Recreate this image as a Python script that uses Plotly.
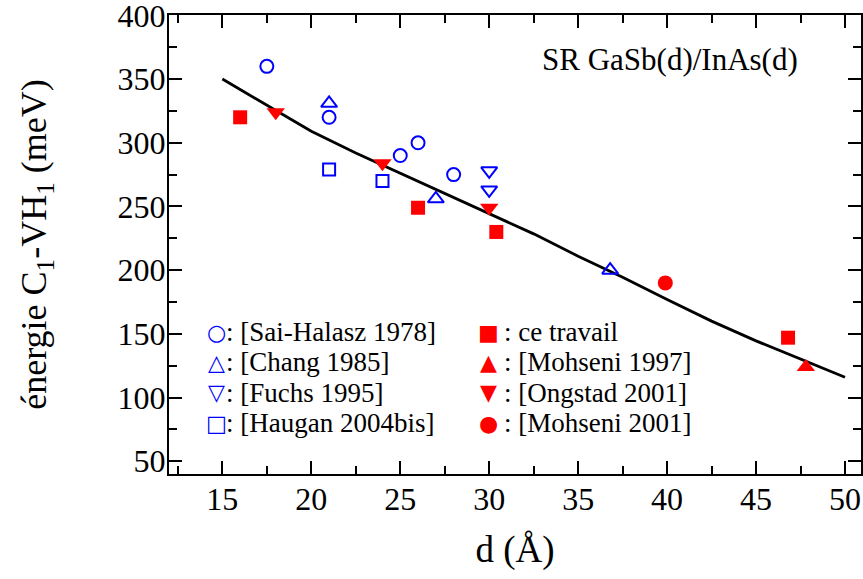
import plotly.graph_objects as go

# data (d in Angstrom, energy in meV)
sai_x = [17.5, 21, 25, 26, 28]
sai_y = [360, 320, 290, 300, 275]
chang_x = [21, 27, 36.8]
chang_y = [331, 256, 200]
fuchs_x = [30, 30]
fuchs_y = [278, 263]
haugan_x = [21, 24]
haugan_y = [279, 270]
travail_x = [16, 26, 30.4, 46.8]
travail_y = [320, 249, 230, 147]
mohseni97_x = [47.8]
mohseni97_y = [124]
ongstad_x = [18, 24, 30]
ongstad_y = [324, 284, 249]
mohseni01_x = [39.9]
mohseni01_y = [190]

fit_x = [15, 17.5, 20, 22.5, 25, 27.5, 30, 32.5, 35, 37.5, 40, 42.5, 45, 47.5, 50]
fit_y = [350, 329.5, 309, 292, 276, 260, 244, 228.5, 211, 194.5, 177, 160, 144.5, 130, 116]

legend_left = [": [Sai-Halasz 1978]", ": [Chang 1985]", ": [Fuchs 1995]", ": [Haugan 2004bis]"]
legend_right = [": ce travail", ": [Mohseni 1997]", ": [Ongstad 2001]", ": [Mohseni 2001]"]
symbols_left = ["○", "△", "▽", "□"]
symbols_right = ["■", "▲", "▼", "●"]

BLUE = "#0000ff"
RED = "#ff0000"
FONT = "Liberation Serif, Times New Roman, serif"

fig = go.Figure()

fig.add_trace(go.Scatter(x=fit_x, y=fit_y, mode="lines", line=dict(color="black", width=2.8)))

def pts(x, y, symbol, color, size):
    open_ = symbol.endswith("-open")
    return go.Scatter(x=x, y=y, mode="markers",
                      marker=dict(symbol=symbol, size=size, color=color,
                                  line=dict(color=color, width=2 if open_ else 0)))

fig.add_trace(pts(sai_x, sai_y, "circle-open", BLUE, 13))
fig.add_trace(pts(chang_x, chang_y, "triangle-up-open", BLUE, 14))
fig.add_trace(pts(fuchs_x, fuchs_y, "triangle-down-open", BLUE, 14))
fig.add_trace(pts(haugan_x, haugan_y, "square-open", BLUE, 12))
fig.add_trace(pts(travail_x, travail_y, "square", RED, 14))
fig.add_trace(pts(mohseni97_x, mohseni97_y, "triangle-up", RED, 16))
fig.add_trace(pts(ongstad_x, ongstad_y, "triangle-down", RED, 16))
fig.add_trace(pts(mohseni01_x, mohseni01_y, "circle", RED, 15))

# hand-made two-column legend
row_y = [0.309, 0.244, 0.177, 0.111]
for i in range(4):
    fig.add_annotation(x=0.069, y=row_y[i], xref="paper", yref="paper", text=symbols_left[i],
                       showarrow=False, xanchor="center", yanchor="middle",
                       font=dict(family="DejaVu Sans", size=22, color=BLUE))
    fig.add_annotation(x=0.080, y=row_y[i], xref="paper", yref="paper", text=legend_left[i],
                       showarrow=False, xanchor="left", yanchor="middle",
                       font=dict(family=FONT, size=27, color="black"))
    fig.add_annotation(x=0.462, y=row_y[i], xref="paper", yref="paper", text=symbols_right[i],
                       showarrow=False, xanchor="center", yanchor="middle",
                       font=dict(family="DejaVu Sans", size=22, color=RED))
    fig.add_annotation(x=0.481, y=row_y[i], xref="paper", yref="paper", text=legend_right[i],
                       showarrow=False, xanchor="left", yanchor="middle",
                       font=dict(family=FONT, size=27, color="black"))

fig.add_annotation(x=0.912, y=0.902, xref="paper", yref="paper", text="SR GaSb(d)/InAs(d)",
                   showarrow=False, xanchor="right", yanchor="middle",
                   font=dict(family=FONT, size=31, color="black"))

axis_common = dict(showline=True, linecolor="black", linewidth=2, mirror="ticks",
                   ticks="inside", ticklen=13, tickwidth=1.5, tickcolor="black",
                   showgrid=False, zeroline=False, automargin=False,
                   ticklabeloverflow="allow",
                   tickfont=dict(family=FONT, size=32, color="black"))

fig.update_xaxes(range=[12, 50.9], tick0=0, dtick=5, ticklabelstandoff=-4,
                 minor=dict(ticks="inside", ticklen=8, dtick=2.5, tick0=0, tickcolor="black", tickwidth=1.5),
                 title=dict(text="d (Å)", font=dict(family=FONT, size=37, color="black"), standoff=20),
                 **axis_common)
fig.update_yaxes(range=[40, 400.3], tick0=0, dtick=50, ticklabelstandoff=-5,
                 minor=dict(ticks="inside", ticklen=8, dtick=25, tick0=0, tickcolor="black", tickwidth=1.5),
                 title=dict(text="énergie C<sub>1</sub>-VH<sub>1</sub> (meV)",
                            font=dict(family=FONT, size=36, color="black"), standoff=60),
                 **axis_common)

fig.update_layout(width=863, height=579, showlegend=False,
                  plot_bgcolor="white", paper_bgcolor="white",
                  font=dict(family=FONT, color="black"),
                  margin=dict(l=169, r=2, t=15, b=105))

# drop the default 8 px page margin so the figure fills the window exactly
fig.write_html("out.html", config={"displayModeBar": False},
               post_script="document.body.style.margin = '0';")
